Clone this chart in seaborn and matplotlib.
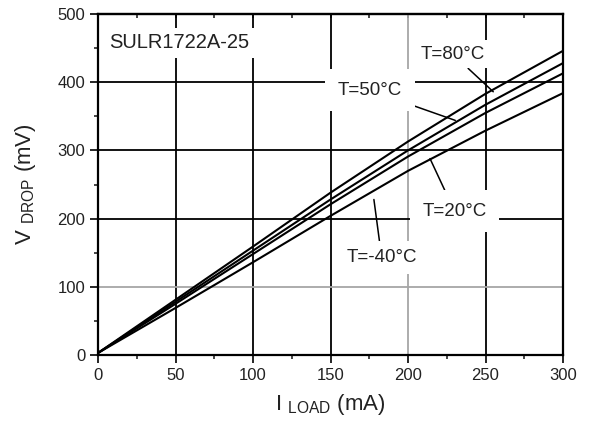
import matplotlib
matplotlib.use("Agg")
import matplotlib.pyplot as plt
from matplotlib.ticker import MultipleLocator, NullFormatter
import numpy as np
import pandas as pd
import seaborn as sns

# ---- data ----
I_LOAD = [0, 50, 100, 150, 200, 250, 300]
V_T80 = [3, 81, 159, 238, 313, 383, 446]
V_T50 = [3, 78, 153, 228, 300, 367, 428]
V_T20 = [3, 75, 148, 221, 291, 355, 413]
V_TM40 = [3, 69, 136, 204, 270, 329, 384]
TEMPS = ["T=80°C", "T=50°C", "T=20°C", "T=-40°C"]
X_TICKS = [0, 50, 100, 150, 200, 250, 300]
Y_TICKS = [0, 100, 200, 300, 400, 500]
PART = "SULR1722A-25"

sns.set_style("ticks")
plt.rcParams['font.family'] = ['Liberation Sans', 'DejaVu Sans']
plt.rcParams['mathtext.fontset'] = 'custom'
plt.rcParams['mathtext.rm'] = 'Liberation Sans'
plt.rcParams['mathtext.it'] = 'Liberation Sans'

df = pd.concat([
    pd.DataFrame({"I": I_LOAD, "V": v, "T": t})
    for v, t in zip([V_T80, V_T50, V_T20, V_TM40], TEMPS)
], ignore_index=True)

fig = plt.figure(figsize=(5.9, 4.21), dpi=100)
ax = fig.add_axes([98 / 590, 66 / 421, 465 / 590, 341 / 421])

sns.lineplot(data=df, x="I", y="V", hue="T", hue_order=TEMPS,
             palette=["black"] * 4, legend=False, ax=ax,
             linewidth=1.5, zorder=5)

ax.set_xlim(0, 300)
ax.set_ylim(0, 500)
ax.set_xticks(X_TICKS)
ax.set_yticks(Y_TICKS)
ax.xaxis.set_minor_locator(MultipleLocator(25))
ax.yaxis.set_minor_locator(MultipleLocator(50))

ax.grid(True, which="major", color="black", linewidth=1.3)
ax.set_axisbelow(True)
xg = ax.get_xgridlines()
yg = ax.get_ygridlines()
xg[X_TICKS.index(200)].set_color("0.65")
yg[Y_TICKS.index(100)].set_color("0.65")

for s in ax.spines.values():
    s.set_visible(True)
    s.set_linewidth(1.6)
    s.set_color("black")

ax.tick_params(which="major", direction="out", length=6, width=1.2,
               labelsize=12, colors="black", labelcolor="#222222", pad=3)
ax.tick_params(which="minor", direction="out", length=3, width=1.2)

sec = ax.secondary_xaxis("top")
sec.set_xticks([])
sec.xaxis.set_minor_locator(MultipleLocator(25))
sec.xaxis.set_minor_formatter(NullFormatter())
sec.tick_params(which="minor", direction="in", length=3, width=1.2)
sec.spines["top"].set_linewidth(1.6)

ax.set_xlabel(r"I $_{\mathrm{LOAD}}$ (mA)", fontsize=16, labelpad=7,
              color="#222222")
ax.set_ylabel(r"V $_{\mathrm{DROP}}$ (mV)", fontsize=16, labelpad=14,
              color="#222222")

ax.text(7.5, 458, PART, fontsize=14.5, ha="left", va="center",
        color="#222222", bbox=dict(fc="white", ec="none", pad=4), zorder=3)

ann = [
    ("T=80°C", (229, 441), (255, 386), 4),
    ("T=50°C", (175.5, 388), (230.5, 344), 9),
    ("T=20°C", (230, 211), (214.2, 288), 9),
    ("T=-40°C", (183, 143), (178, 228), 6),
]
for txt, xyt, xy, pad in ann:
    ax.annotate(txt, xy=xy, xytext=xyt, fontsize=13.5, ha="center",
                va="center", zorder=3, color="#222222",
                bbox=dict(fc="white", ec="none", pad=pad),
                arrowprops=dict(arrowstyle="-", color="black", lw=1.1,
                                shrinkA=0, shrinkB=0))

fig.savefig("out.png", dpi=100)
